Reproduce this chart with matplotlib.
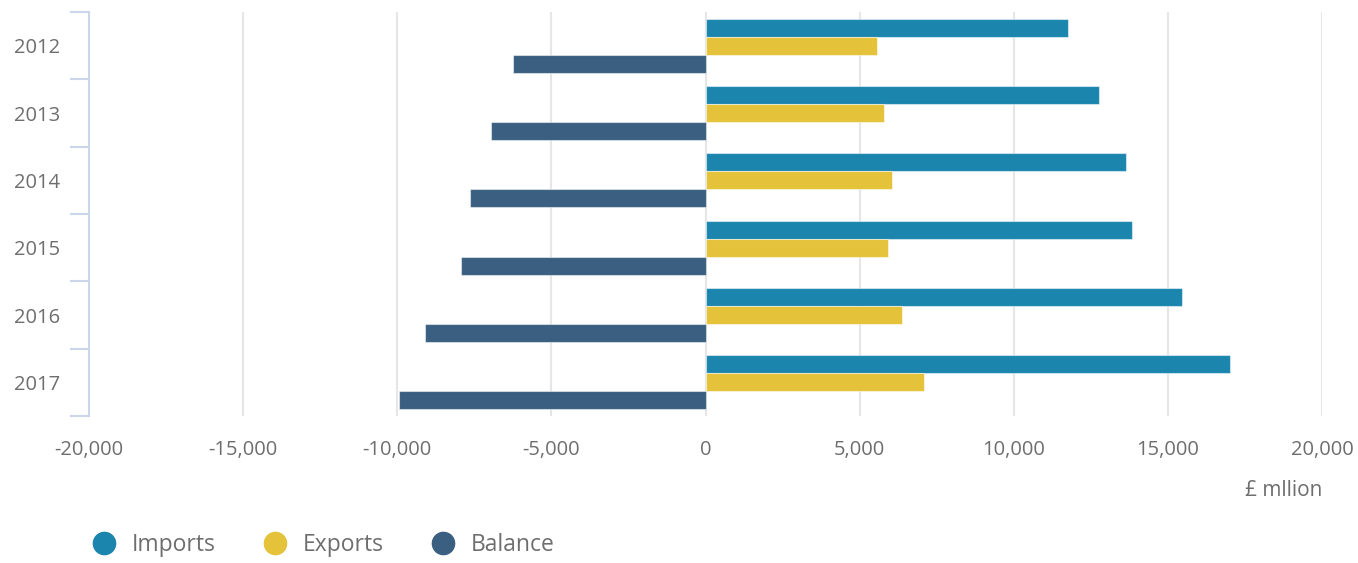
import matplotlib.pyplot as plt
from matplotlib.lines import Line2D
import numpy as np

plt.rcParams['font.family'] = ['Open Sans', 'DejaVu Sans']

years = ['2012', '2013', '2014', '2015', '2016', '2017']
imports = [11750, 12750, 13650, 13820, 15450, 17000]
exports = [5550, 5800, 6050, 5920, 6380, 7100]
balance = [-6250, -6950, -7650, -7920, -9100, -9950]

series = [('Imports', imports, '#1b85ad'),
          ('Exports', exports, '#e4c23a'),
          ('Balance', balance, '#3a5f80')]

fig = plt.figure(figsize=(13.58, 5.63), dpi=100)
ax = fig.add_axes([89/1358, 1 - 416/563, (1322 - 89)/1358, (416 - 12)/563])

y = np.arange(len(years))
bh = 0.267
for k, (name, vals, col) in enumerate(series):
    ax.barh(y + (k - 1) * bh, vals, height=bh, color=col,
            edgecolor=(1, 1, 1, 0.5), linewidth=0.8, zorder=3)

ax.set_xlim(-20000, 20000)
ax.set_ylim(len(years) - 0.5, -0.5)
ticks = np.arange(-20000, 20001, 5000)
ax.set_xticks(ticks)
ax.set_xticklabels([f'{t:,}' for t in ticks])
ax.grid(axis='x', color='#e6e6e6', linewidth=1.5, zorder=0)
ax.tick_params(axis='x', length=0, pad=17, labelsize=14.5, labelcolor='#6e6e6e')

ax.set_yticks(y)
ax.set_yticklabels(years)
ax.set_yticks(np.arange(-0.5, len(years)), minor=True)
ax.tick_params(axis='y', which='major', length=0, pad=21, labelsize=14.5,
               labelcolor='#6e6e6e')
ax.tick_params(axis='y', which='minor', length=14, width=1.5, color='#ccd6eb')

for s in ['top', 'right', 'bottom']:
    ax.spines[s].set_visible(False)
ax.spines['left'].set_color('#ccd6eb')
ax.spines['left'].set_linewidth(1.5)

fig.text(1322/1358, 1 - 490/563, '£ mllion', ha='right', va='center',
         fontsize=15, color='#6e6e6e')

handles = [Line2D([], [], linestyle='none', marker='o', markersize=16,
                  markerfacecolor=c, markeredgecolor=c) for _, _, c in series]
fig.legend(handles, [n for n, _, _ in series], loc='center left',
           bbox_to_anchor=(70/1358, 1 - 545/563), ncol=3, frameon=False,
           fontsize=16.5, labelcolor='#6e6e6e', handletextpad=0.6,
           columnspacing=2.0, handlelength=1.2)

fig.savefig('out.png', dpi=100, facecolor='white')
